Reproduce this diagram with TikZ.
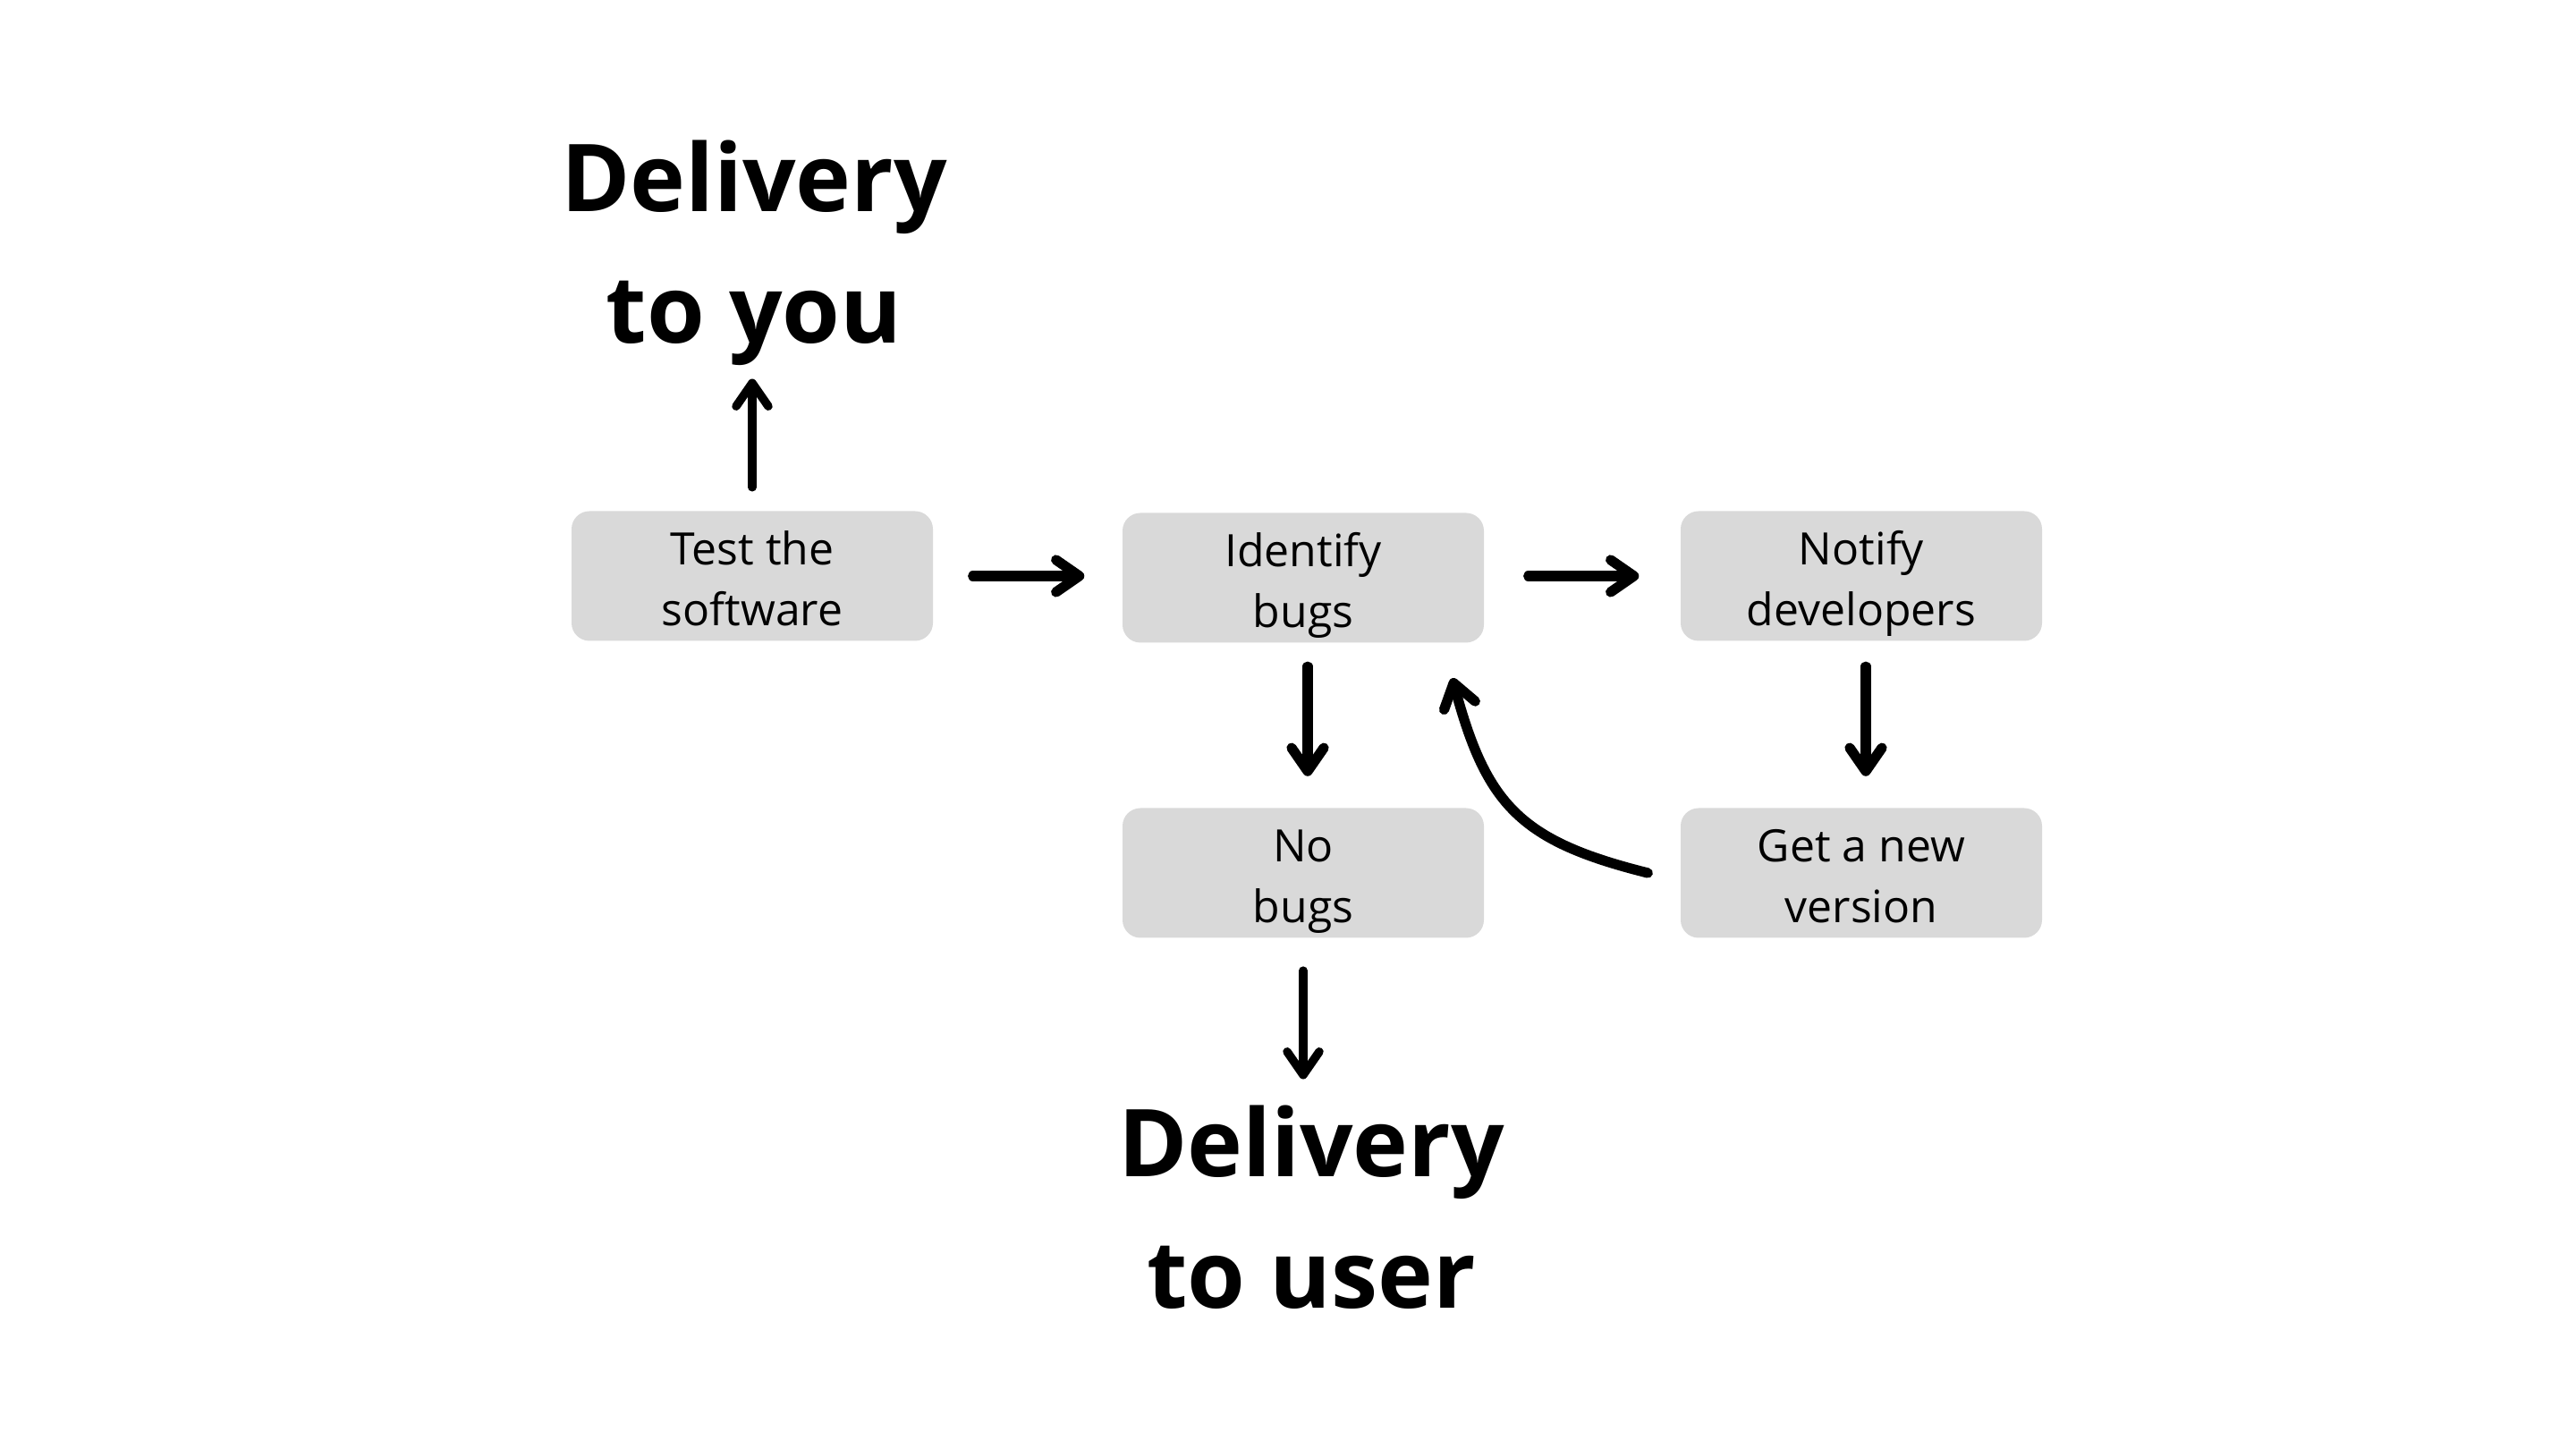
\documentclass[tikz,border=0pt]{standalone}
\usepackage{fontspec}
\setmainfont{Open Sans}
\usepackage{tikz}
\usetikzlibrary{arrows.meta, positioning}

\begin{document}
\begin{tikzpicture}[
    stepbox/.style = {rectangle, rounded corners=0.2cm, fill=gray!30,
                     minimum width=4.04cm, minimum height=1.45cm,
                     inner sep=0pt, align=center,
                     text height=31.8pt, text depth=0pt,
                     font=\fontsize{14.2}{19.5}\selectfont},
    goal/.style    = {inner sep=0pt, align=center,
                     font=\fontsize{29.8}{41.8}\selectfont\bfseries},
    arr/.style     = {-{Straight Barb[round, length=2.6mm, width=3.6mm]},
                     line width=3.2pt, line cap=round},
    thinarr/.style = {arr, line width=2.7pt}
]
\useasboundingbox (0,0) rectangle (28.8,16.2);
\fill[white] (0,0) rectangle (28.8,16.2);

%% ---- Top row ----
\node[stepbox] (test)     at (8.41,  9.76) {Test the\\software};
\node[stepbox] (identify) at (14.57, 9.74) {Identify\\bugs};
\node[stepbox] (notify)   at (20.81, 9.76) {Notify\\developers};

%% ---- Bottom row ----
\node[stepbox] (nobugs)   at (14.57, 6.44) {No\\bugs};
\node[stepbox] (newver)   at (20.81, 6.44) {Get a new\\version};

%% ---- Deliveries ----
\node[goal] (toyou)    at (8.43, 13.37) {Delivery\\to you};
\node[goal] (touser)   at (14.66, 2.70) {Delivery\\to user};

%% =============================================
%% ARROWS
%% =============================================
\draw[thinarr] ([yshift=2.6mm]test.north) -- ([yshift=-1.4mm]toyou.south -| test.north);

\draw[arr] ([xshift=4.4mm]test.east)     -- ([xshift=-4.2mm]identify.west |- test.east);
\draw[arr] ([xshift=4.9mm]identify.east |- notify.west) -- ([xshift=-4.6mm]notify.west);

\draw[arr] ([xshift=0.5mm,yshift=-2.6mm]identify.south) -- ([xshift=0.5mm,yshift=3.5mm]nobugs.north);
\draw[arr] ([xshift=0.5mm,yshift=-2.8mm]notify.south)   -- ([xshift=0.5mm,yshift=3.5mm]newver.north);

\draw[thinarr] ([yshift=-3.6mm]nobugs.south) -- ([yshift=2.9mm]touser.north -| nobugs.south);

%% Feedback: new version back to bugs
\draw[arr] ([xshift=-3.6mm]newver.west)
    to[out=166, in=-75, looseness=1.22] ([xshift=-3.6mm,yshift=-3.9mm]identify.south east);

\end{tikzpicture}
\end{document}
